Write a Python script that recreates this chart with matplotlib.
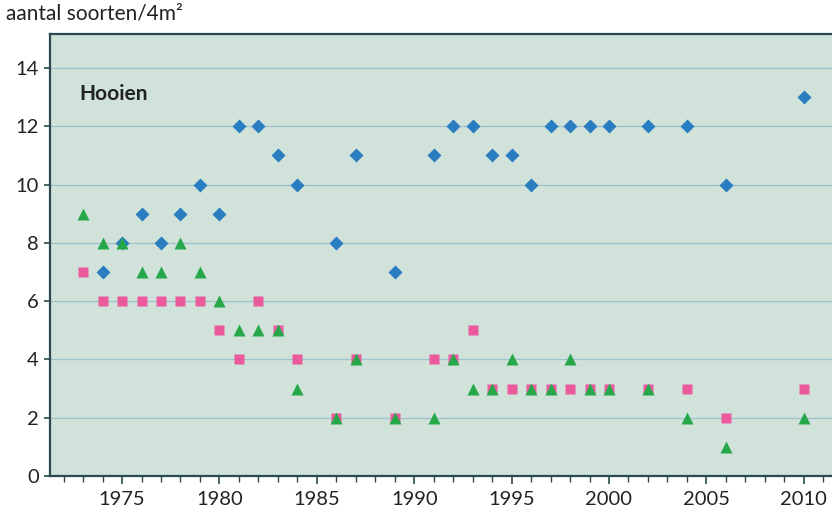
import matplotlib.pyplot as plt
from matplotlib.ticker import MultipleLocator

plt.rcParams['font.family'] = ['Lato', 'DejaVu Sans']

# totaal (blauw)
years_blue = [1974, 1975, 1976, 1977, 1978, 1979, 1980, 1981, 1982, 1983, 1984,
              1986, 1987, 1989, 1991, 1992, 1993, 1994, 1995, 1996, 1997, 1998,
              1999, 2000, 2002, 2004, 2006, 2010]
values_blue = [7, 8, 9, 8, 9, 10, 9, 12, 12, 11, 10,
               8, 11, 7, 11, 12, 12, 11, 11, 10, 12, 12,
               12, 12, 12, 12, 10, 13]

# roze
years_pink = [1973, 1974, 1975, 1976, 1977, 1978, 1979, 1980, 1981, 1982, 1983,
              1984, 1986, 1987, 1989, 1991, 1992, 1993, 1994, 1995, 1996, 1997,
              1998, 1999, 2000, 2002, 2004, 2006, 2010]
values_pink = [7, 6, 6, 6, 6, 6, 6, 5, 4, 6, 5,
               4, 2, 4, 2, 4, 4, 5, 3, 3, 3, 3,
               3, 3, 3, 3, 3, 2, 3]

# groen
years_green = [1973, 1974, 1975, 1976, 1977, 1978, 1979, 1980, 1981, 1982, 1983,
               1984, 1986, 1987, 1989, 1991, 1992, 1993, 1994, 1995, 1996, 1997,
               1998, 1999, 2000, 2002, 2004, 2006, 2010]
values_green = [9, 8, 8, 7, 7, 8, 7, 6, 5, 5, 5,
                3, 2, 4, 2, 2, 4, 3, 3, 4, 3, 3,
                4, 3, 3, 3, 2, 1, 2]

y_ticks = [0, 2, 4, 6, 8, 10, 12, 14]
x_ticks = [1975, 1980, 1985, 1990, 1995, 2000, 2005, 2010]

fig = plt.figure(figsize=(8.32, 5.17), dpi=100)
ax = fig.add_axes([0.0601, 0.0793, 0.9399, 0.855])
ax.set_facecolor('#d0e2da')

for y in y_ticks[1:]:
    ax.axhline(y, color='#9fc2cc', lw=0.9, zorder=1)

ax.plot(years_blue, values_blue, 'D', color='#2a7dc0', ms=7.5, mec='none', zorder=3)
ax.plot(years_pink, values_pink, 's', color='#ea5a9c', ms=7, mec='none', zorder=3)
ax.plot(years_green, values_green, '^', color='#26a84a', ms=8, mec='none', zorder=4)

ax.set_xlim(1971.3, 2011.45)
ax.set_ylim(0, 15.17)
ax.set_yticks(y_ticks)
ax.set_xticks(x_ticks)
ax.xaxis.set_minor_locator(MultipleLocator(1))

ax.spines['right'].set_visible(False)
for side in ['left', 'bottom', 'top']:
    ax.spines[side].set_color('#2a4a52')
    ax.spines[side].set_linewidth(1.6)

ax.tick_params(axis='both', which='major', labelsize=14.5, color='#2a4a52',
               labelcolor='#222222', direction='out')
ax.tick_params(axis='x', which='major', length=6, width=1.2, pad=5)
ax.tick_params(axis='x', which='minor', length=4, width=1.0, color='#2a4a52')
ax.tick_params(axis='y', which='major', length=4, width=1.2, pad=4)

ax.text(0.037, 0.865, 'Hooien', transform=ax.transAxes, fontsize=15,
        fontweight='bold', color='#222222', va='center')
fig.text(6 / 832, 1 - 13 / 517, 'aantal soorten/4m²', fontsize=15,
         color='#222222', va='center', ha='left')

fig.savefig('out.png', dpi=100)
